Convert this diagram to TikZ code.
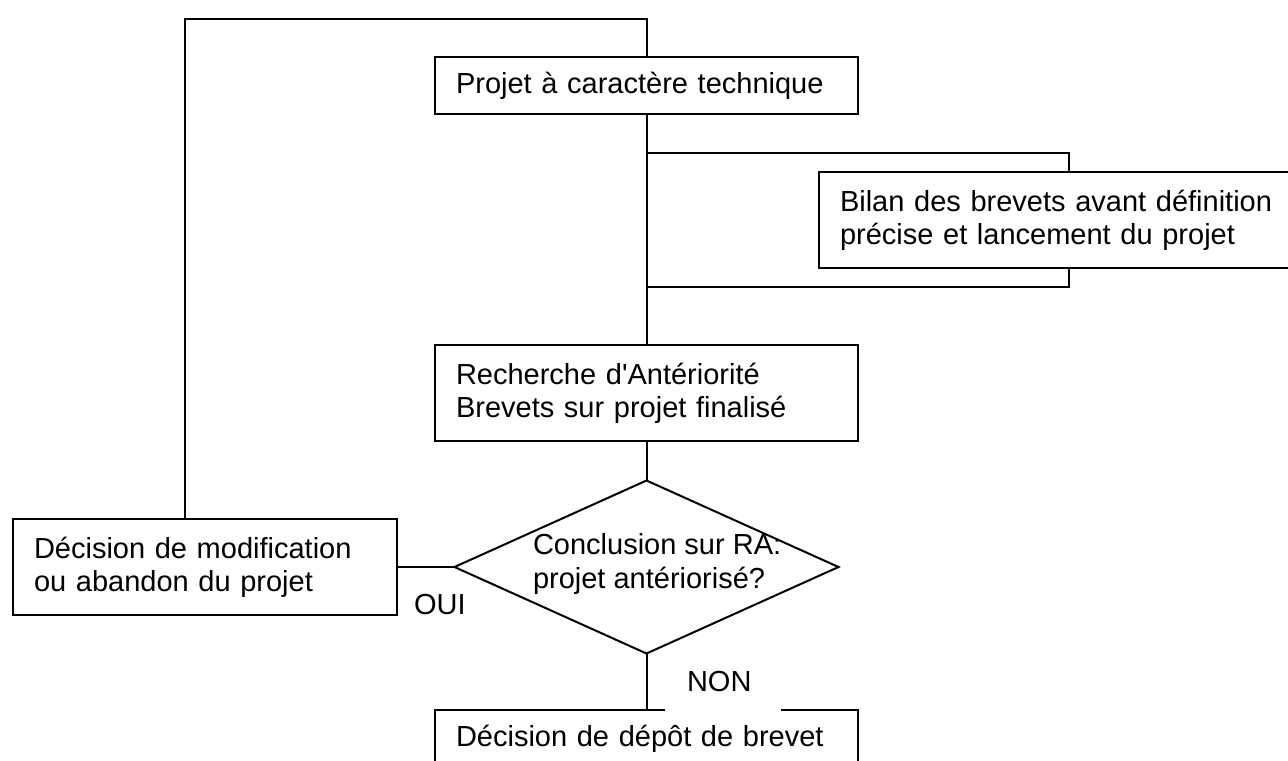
\documentclass[tikz,border=0pt]{standalone}
\usepackage{fontspec}
\setmainfont{Liberation Sans}[Ligatures=TeXOff]
\usetikzlibrary{shapes.geometric}

\begin{document}
\begin{tikzpicture}[x=0.5pt, y=-0.5pt, line width=1pt,
        font=\fontsize{14.5pt}{16.6pt}\selectfont,
        main/.style = {draw, anchor=north west, outer sep=0pt, inner xsep=10.5pt, inner ysep=0pt, align=left},
        diam/.style = {draw, diamond, outer sep=0pt, inner sep=0pt, minimum width=192pt, minimum height=86.5pt},
        lab/.style = {inner sep=0pt, outer sep=0pt}]
        \useasboundingbox (0,0) rectangle (1288,760);
        \clip (0,0) rectangle (1288,760);
        \node[main, text width=190.5pt, minimum height=28.5pt] (1) at (435,57) {Projet à caractère technique};
        \node[main, text width=219.5pt, minimum height=48pt] (3) at (819,172) {Bilan des brevets avant définition\\précise et lancement du projet};
        \node[main, text width=190.5pt, minimum height=48pt] (2) at (435,345) {Recherche d'Antériorité\\Brevets sur projet finalisé};
        \node[diam] (4) at (646.5,567) {};
        \node[lab, align=left, anchor=west] (4t) at (533,564) {Conclusion sur RA:\\projet antériorisé?};
        \node[main, text width=171pt, minimum height=48pt] (5) at (13,519) {Décision de modification\\ou abandon du projet};
        \node[main, text width=190.5pt, minimum height=28.5pt] (6) at (435,710) {Décision de dépôt de brevet};
        \node[lab, anchor=west] (oui) at (414,605) {OUI};
        \node[main, draw=none, fill=white, text width=36pt, inner xsep=11pt, minimum height=30.5pt] (non) at (665,651) {NON};
        \coordinate (c1) at (185,19);
        \coordinate (b1) at (1069,153);
        \coordinate (b2) at (1069,287);
        \draw (5.north -| c1) -- (c1) -| (1.north);
        \draw (1.south) -- (2.north);
        \draw (1.south |- b1) -- (b1) -- (b1 |- 3.north);
        \draw (b2 |- 3.south) -- (b2) -- (b2 -| 1.south);
        \draw (2.south) -- (4.north);
        \draw (4.south) -- (6.north);
        \draw (5.east) -- (4.west);
\end{tikzpicture}
\end{document}
